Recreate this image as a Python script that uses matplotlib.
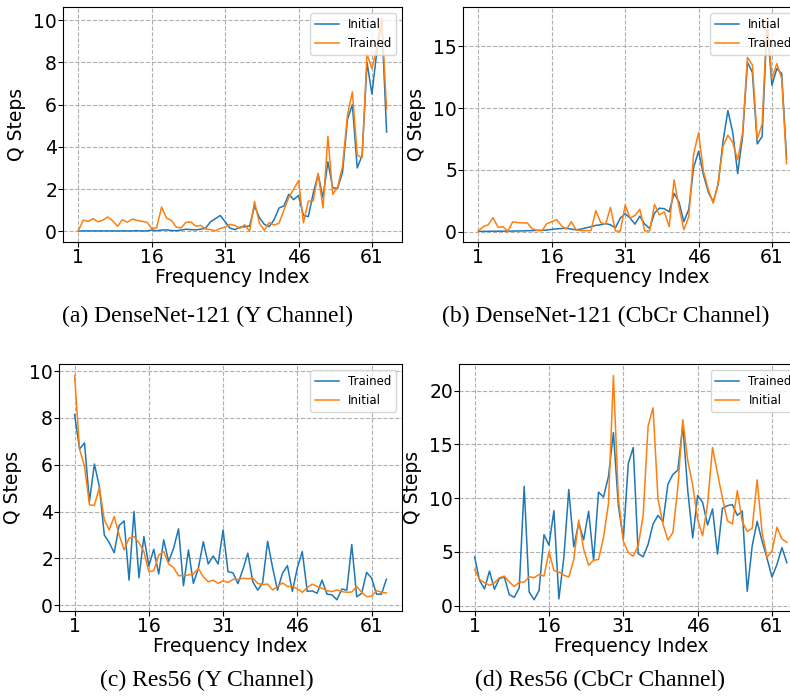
import numpy as np
import matplotlib
matplotlib.use("Agg")
import matplotlib.pyplot as plt

# frequency index 1..64
freq_idx = np.arange(1, 65)
xtick_vals = [1, 16, 31, 46, 61]

# (a) DenseNet-121, Y channel
dn_y_initial = [0.02, 0.02, 0.02, 0.02, 0.02, 0.02, 0.02, 0.02, 0.02, 0.02,
                0.02, 0.02, 0.03, 0.02, 0.02, 0.06, 0.03, 0.06, 0.07, 0.04,
                0.03, 0.06, 0.1, 0.08, 0.07, 0.1, 0.15, 0.45, 0.6, 0.75,
                0.45, 0.15, 0.08, 0.2, 0.22, 0.25, 1.2, 0.65, 0.33, 0.22,
                0.55, 1.1, 1.2, 1.75, 1.5, 1.7, 0.75, 0.7, 1.8, 2.7,
                1.6, 3.3, 2.05, 2.05, 2.8, 5.3, 6.0, 3.0, 3.6, 8.0,
                6.5, 8.5, 10.0, 4.7]
dn_y_trained = [0.05, 0.53, 0.47, 0.6, 0.45, 0.53, 0.68, 0.5, 0.24, 0.55,
                0.43, 0.58, 0.52, 0.47, 0.43, 0.13, 0.17, 1.15, 0.63, 0.52,
                0.2, 0.16, 0.43, 0.44, 0.24, 0.28, 0.11, 0.08, 0.03, 0.14,
                0.2, 0.33, 0.28, 0.14, 0.31, 0.0, 1.42, 0.38, 0.05, 0.41,
                0.3, 0.38, 1.0, 1.6, 2.0, 2.4, 0.4, 1.43, 1.43, 2.75,
                1.1, 4.5, 1.75, 2.1, 3.1, 5.5, 6.6, 3.6, 3.5, 8.4,
                7.7, 8.7, 10.1, 5.8]

# (b) DenseNet-121, CbCr channel
dn_c_initial = [0.02, 0.02, 0.02, 0.03, 0.03, 0.03, 0.04, 0.04, 0.05, 0.05,
                0.07, 0.08, 0.1, 0.1, 0.12, 0.18, 0.22, 0.25, 0.27, 0.2,
                0.15, 0.2, 0.3, 0.4, 0.5, 0.55, 0.65, 0.55, 0.3, 1.1,
                1.45, 1.1, 0.6, 1.25, 0.6, 0.25, 1.5, 1.9, 1.85, 1.6,
                3.1, 2.4, 0.8, 1.8, 5.2, 6.5, 4.6, 3.2, 2.4, 3.8,
                7.3, 9.8, 8.0, 4.7, 7.7, 13.7, 12.9, 7.1, 7.7, 16.8,
                11.85, 13.2, 12.8, 5.9]
dn_c_trained = [0.05, 0.4, 0.55, 1.13, 0.35, 0.4, 0.03, 0.78, 0.73, 0.7,
                0.7, 0.22, 0.1, 0.08, 0.65, 0.8, 0.97, 0.46, 0.19, 0.8,
                0.13, 0.08, 0.08, 0.08, 1.7, 0.73, 0.6, 1.96, 0.05, 0.03,
                2.15, 1.1, 1.3, 1.8, 0.05, 0.05, 2.2, 1.35, 1.6, 0.4,
                4.2, 2.0, 0.15, 1.2, 6.3, 8.0, 4.9, 3.4, 2.3, 3.9,
                6.9, 7.8, 7.2, 5.8, 8.0, 14.1, 13.5, 7.5, 8.7, 17.3,
                12.4, 13.6, 12.4, 5.5]

# (c) Res56, Y channel
res_y_trained = [8.14, 6.67, 6.93, 4.43, 6.03, 5.07, 3.0, 2.67, 2.24, 3.4,
                 3.6, 1.07, 4.0, 1.17, 2.93, 1.67, 2.39, 1.33, 2.79, 1.86,
                 2.43, 3.26, 0.83, 2.36, 0.93, 1.57, 2.71, 1.76, 2.1, 1.76,
                 3.21, 1.43, 1.38, 0.92, 1.52, 2.22, 1.0, 0.64, 0.97, 2.73,
                 1.61, 0.64, 1.36, 1.69, 0.59, 1.59, 2.29, 0.59, 0.61, 0.51,
                 1.07, 0.47, 0.44, 0.23, 0.69, 0.64, 2.59, 0.36, 0.5, 1.4,
                 1.16, 0.47, 0.47, 1.11]
res_y_initial = [9.81, 6.67, 5.93, 4.29, 4.26, 5.03, 3.64, 3.21, 3.79, 3.0,
                 2.36, 2.86, 2.93, 2.67, 2.29, 1.43, 1.47, 2.14, 2.29, 1.76,
                 1.61, 1.26, 1.26, 1.29, 1.33, 1.57, 1.21, 1.0, 1.07, 0.93,
                 1.04, 0.97, 1.1, 1.1, 1.15, 1.13, 1.15, 0.93, 0.88, 0.9,
                 0.65, 0.8, 0.95, 0.8, 0.8, 0.7, 0.55, 0.75, 0.9, 0.8,
                 0.72, 0.62, 0.58, 0.65, 0.58, 0.55, 0.56, 0.8, 0.55, 0.37,
                 0.38, 0.62, 0.55, 0.52]

# (d) Res56, CbCr channel
res_c_trained = [4.53, 2.34, 1.56, 3.22, 1.53, 2.53, 2.66, 1.03, 0.78, 1.66,
                 11.1, 1.28, 0.55, 1.41, 6.6, 5.63, 8.84, 0.63, 4.47, 10.8,
                 5.47, 7.66, 6.13, 8.78, 4.22, 10.56, 10.1, 12.0, 16.1, 9.3,
                 6.2, 13.2, 14.7, 4.84, 4.55, 5.7, 7.6, 8.4, 7.8, 11.3,
                 12.2, 12.6, 16.8, 10.7, 6.3, 10.25, 9.6, 7.5, 9.0, 4.8,
                 9.06, 9.3, 9.4, 8.4, 8.8, 1.34, 5.56, 7.84, 6.0, 4.4,
                 2.66, 3.84, 5.4, 4.0]
res_c_initial = [3.38, 2.44, 2.13, 1.9, 2.13, 2.6, 2.75, 2.2, 1.78, 2.19,
                 2.19, 2.69, 2.6, 2.9, 2.75, 5.03, 3.28, 3.13, 2.84, 2.66,
                 4.3, 7.97, 5.25, 3.75, 4.22, 4.3, 6.34, 9.47, 21.4, 10.0,
                 6.0, 4.94, 4.6, 5.56, 8.4, 16.7, 18.4, 9.9, 7.6, 6.1,
                 6.8, 11.0, 17.3, 13.5, 11.2, 8.0, 6.5, 9.5, 14.7, 12.3,
                 10.0, 7.9, 7.6, 10.7, 7.8, 6.9, 7.2, 11.7, 6.8, 4.5,
                 5.1, 7.3, 6.2, 5.9]

captions = ["(a) DenseNet-121 (Y Channel)", "(b) DenseNet-121 (CbCr Channel)",
            "(c) Res56 (Y Channel)", "(d) Res56 (CbCr Channel)"]

W, H = 790, 696
fig = plt.figure(figsize=(W / 100, H / 100), dpi=100)


def px_axes(left, top, right, bottom):
    return fig.add_axes([left / W, 1 - bottom / H, (right - left) / W, (bottom - top) / H])


panels = [
    (px_axes(63, 7.3, 402, 242), dn_y_initial, dn_y_trained, ["Initial", "Trained"]),
    (px_axes(463, 7.3, 802, 242), dn_c_initial, dn_c_trained, ["Initial", "Trained"]),
    (px_axes(59, 364.3, 402, 611), res_y_trained, res_y_initial, ["Trained", "Initial"]),
    (px_axes(459, 364.3, 802.5, 611), res_c_trained, res_c_initial, ["Trained", "Initial"]),
]

for ax, first, second, names in panels:
    ax.plot(freq_idx, first, color="#1f77b4", lw=1.1, label=names[0])
    ax.plot(freq_idx, second, color="#ff7f0e", lw=1.1, label=names[1])
    ax.set_xticks(xtick_vals)
    ax.grid(True, linestyle="--", color="#b0b0b0", lw=0.8)
    ax.tick_params(labelsize=13.5, pad=0.8)
    ax.set_xlabel("Frequency Index", fontsize=13.5, labelpad=1)
    ax.set_ylabel("Q Steps", fontsize=13.5, labelpad=5)
    ax.legend(loc="upper right", fontsize=8.5)

# sub-figure captions
cap_pos = [(208, 316), (606, 316), (207, 680), (600, 680)]
for (cx, cy), txt in zip(cap_pos, captions):
    fig.text(cx / W, 1 - cy / H, txt, ha="center", va="center",
             family="Liberation Serif", fontsize=17)

fig.savefig("out.png", dpi=100)
